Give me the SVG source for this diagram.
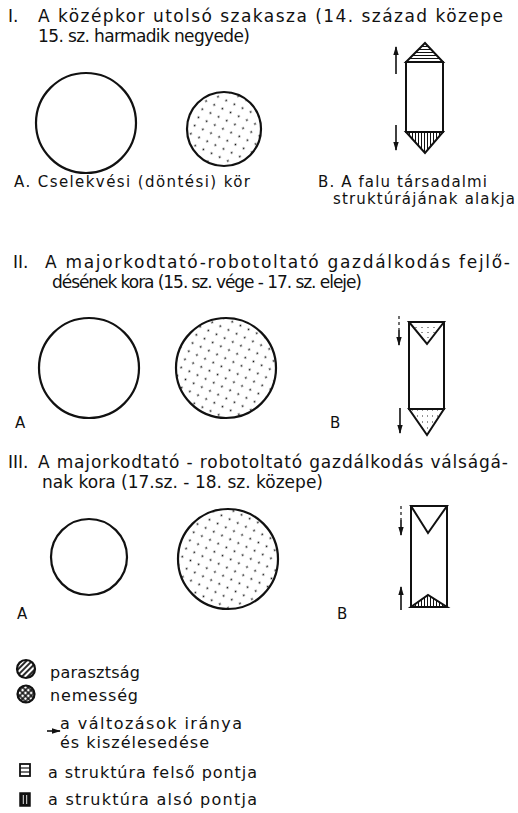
<svg xmlns="http://www.w3.org/2000/svg" width="518" height="813" viewBox="0 0 518 813">
<style>
text{font-family:"DejaVu Sans","Liberation Sans",sans-serif;fill:#111}
.t{font-size:17px}
.l{font-size:15px}
.g{font-size:16px}
.c{fill:#fff;stroke:#111;stroke-width:2.2}
.cd{fill:url(#dots);stroke:#111;stroke-width:2.2}
.p{fill:none;stroke:#111;stroke-width:2}
.ar{stroke:#111;stroke-width:1.6;fill:none;marker-end:url(#ah)}
.da{stroke:#111;stroke-width:1.2;fill:none;stroke-dasharray:3 3}
</style>
<defs>
<pattern id="dots" width="9" height="9" patternUnits="userSpaceOnUse" patternTransform="rotate(25)"><rect width="9" height="9" fill="#fff"/><circle cx="4.5" cy="4.5" r="0.9" fill="#111"/></pattern>
<pattern id="hh" width="4" height="3" patternUnits="userSpaceOnUse"><rect width="4" height="3" fill="#fff"/><line x1="0" y1="1.5" x2="4" y2="1.5" stroke="#111" stroke-width="1"/></pattern>
<pattern id="vh" width="3" height="4" patternUnits="userSpaceOnUse"><rect width="3" height="4" fill="#fff"/><line x1="1.5" y1="0" x2="1.5" y2="4" stroke="#111" stroke-width="1"/></pattern>
<pattern id="hl" width="6" height="5" patternUnits="userSpaceOnUse"><rect width="6" height="5" fill="#fff"/><line x1="1" y1="2.5" x2="3" y2="2.5" stroke="#777" stroke-width="0.8"/></pattern>
<pattern id="vl" width="5" height="6" patternUnits="userSpaceOnUse"><rect width="5" height="6" fill="#fff"/><line x1="2.5" y1="1" x2="2.5" y2="3" stroke="#777" stroke-width="0.8"/></pattern>
<pattern id="diag" width="4" height="4" patternUnits="userSpaceOnUse" patternTransform="rotate(-45)"><rect width="4" height="4" fill="#fff"/><line x1="0" y1="2" x2="4" y2="2" stroke="#111" stroke-width="1.8"/></pattern>
<pattern id="cross" width="4" height="4" patternUnits="userSpaceOnUse" patternTransform="rotate(45)"><rect width="4" height="4" fill="#fff"/><line x1="0" y1="2" x2="4" y2="2" stroke="#111" stroke-width="1.5"/><line x1="2" y1="0" x2="2" y2="4" stroke="#111" stroke-width="1.5"/></pattern>
<marker id="ah" viewBox="0 0 10 6" refX="9" refY="3" markerWidth="9" markerHeight="5.4" orient="auto" markerUnits="userSpaceOnUse"><path d="M0,0 L10,3 L0,6 Z" fill="#111"/></marker>
</defs>

<g id="section1">
<text class="t" x="8" y="22">I.</text>
<text class="t" x="38" y="22" textLength="465" lengthAdjust="spacing">A középkor utolsó szakasza (14. század közepe</text>
<text class="t" x="38" y="42" textLength="212" lengthAdjust="spacing">15. sz. harmadik negyede)</text>
</g>
<g id="circle-I-A"><circle class="c" cx="86" cy="123" r="50"/></g>
<g id="circle-I-B"><circle class="cd" cx="224" cy="129" r="37"/></g>
<g id="pencil-I">
<polygon points="406,62 443,62 425,43" fill="url(#hh)" stroke="#111" stroke-width="2"/>
<rect class="p" x="406" y="62" width="37" height="70"/>
<polygon points="406,132 443,132 425,153" fill="url(#vh)" stroke="#111" stroke-width="2"/>
</g>
<g id="label-I">
<text class="l" x="14" y="187" textLength="236" lengthAdjust="spacing">A. Cselekvési (döntési) kör</text>
<text class="l" x="318" y="187" textLength="169" lengthAdjust="spacing">B. A falu társadalmi</text>
<text class="l" x="333" y="204" textLength="182" lengthAdjust="spacing">struktúrájának alakja</text>
</g>

<g id="section2">
<text class="t" x="13" y="268">II.</text>
<text class="t" x="45" y="268" textLength="465" lengthAdjust="spacing">A majorkodtató-robotoltató gazdálkodás fejlő-</text>
<text class="t" x="52" y="288" textLength="310" lengthAdjust="spacing">désének kora (15. sz. vége - 17. sz. eleje)</text>
</g>
<g id="circle-II-A"><circle class="c" cx="89" cy="368" r="50"/></g>
<g id="circle-II-B"><circle class="cd" cx="226" cy="368" r="50"/></g>
<g id="pencil-II">
<rect class="p" x="409" y="322" width="35" height="87"/>
<polygon points="409,322 444,322 427,344" fill="url(#hl)" stroke="#111" stroke-width="2"/>
<polygon points="409,409 444,409 427,435" fill="url(#vl)" stroke="#111" stroke-width="2"/>
</g>
<g id="label-II">
<text class="l" x="15" y="428">A</text>
<text class="l" x="330" y="428">B</text>
</g>

<g id="section3">
<text class="t" x="8" y="468">III.</text>
<text class="t" x="38" y="468" textLength="470" lengthAdjust="spacing">A majorkodtató - robotoltató gazdálkodás válságá-</text>
<text class="t" x="42" y="488" textLength="281" lengthAdjust="spacing">nak kora (17.sz. - 18. sz. közepe)</text>
</g>
<g id="circle-III-A"><circle class="c" cx="89" cy="557" r="38"/></g>
<g id="circle-III-B"><circle class="cd" cx="228" cy="559" r="50"/></g>
<g id="pencil-III">
<rect class="p" x="411" y="506" width="36" height="101"/>
<polygon points="411,506 447,506 428,533" fill="#fff" stroke="#111" stroke-width="2"/>
<polygon points="411,607 447,607 428,595" fill="url(#vh)" stroke="#111" stroke-width="2"/>
</g>
<g id="label-III">
<text class="l" x="17" y="619">A</text>
<text class="l" x="337" y="619">B</text>
</g>

<g id="connectors">
<line class="ar" x1="396" y1="74" x2="396" y2="47"/>
<line class="ar" x1="396" y1="125" x2="396" y2="150"/>
<line class="da" x1="399" y1="316" x2="399" y2="330"/>
<line class="ar" x1="399" y1="330" x2="399" y2="345"/>
<line class="ar" x1="400" y1="408" x2="400" y2="433"/>
<line class="da" x1="401" y1="506" x2="401" y2="520"/>
<line class="ar" x1="401" y1="520" x2="401" y2="535"/>
<line class="ar" x1="401" y1="610" x2="401" y2="587"/>
</g>

<g id="legend">
<circle cx="26" cy="669" r="9" fill="url(#diag)" stroke="#111" stroke-width="2.2"/>
<text class="g" x="50" y="678" textLength="90" lengthAdjust="spacing">parasztság</text>
<circle cx="26" cy="694" r="8.5" fill="url(#cross)" stroke="#111" stroke-width="2.2"/>
<text class="g" x="50" y="701" textLength="88" lengthAdjust="spacing">nemesség</text>
<line class="ar" x1="47" y1="731" x2="60" y2="731"/>
<text class="g" x="60" y="729" textLength="182" lengthAdjust="spacing">a változások iránya</text>
<text class="g" x="60" y="748" textLength="149" lengthAdjust="spacing">és kiszélesedése</text>
<rect x="20" y="764" width="10" height="12" fill="#fff" stroke="#111" stroke-width="1.8"/>
<line x1="20" y1="768" x2="30" y2="768" stroke="#111" stroke-width="1.2"/>
<line x1="20" y1="772" x2="30" y2="772" stroke="#111" stroke-width="1.2"/>
<text class="g" x="48" y="778" textLength="209" lengthAdjust="spacing">a struktúra felső pontja</text>
<rect x="20" y="793" width="10" height="13" fill="#111" stroke="#111" stroke-width="1.5"/>
<line x1="23.3" y1="795" x2="23.3" y2="804" stroke="#fff" stroke-width="0.9"/>
<line x1="26.7" y1="795" x2="26.7" y2="804" stroke="#fff" stroke-width="0.9"/>
<text class="g" x="48" y="805" textLength="209" lengthAdjust="spacing">a struktúra alsó pontja</text>
</g>
</svg>
